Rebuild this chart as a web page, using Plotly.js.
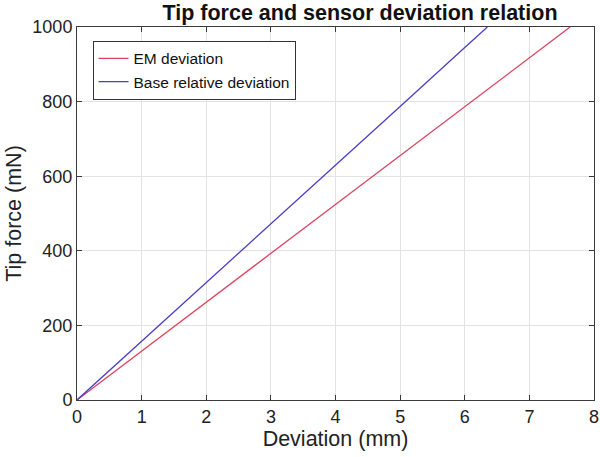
<!DOCTYPE html>
<html><head><meta charset="utf-8">
<script src="https://cdn.plot.ly/plotly-3.0.1.min.js"></script>
<style>html,body{margin:0;padding:0;background:#fff}#chart{width:600px;height:457px}</style>
</head><body><div id="chart"></div>
<script>
const emX = [0, 1, 2, 3, 4, 5, 6, 7, 7.63];
const emY = [0, 131, 262, 393, 524, 655, 786, 917, 1000];
const baseX = [0, 1, 2, 3, 4, 5, 6, 6.35];
const baseY = [0, 157, 315, 472, 630, 787, 945, 1000];
const xTicks = [0, 1, 2, 3, 4, 5, 6, 7, 8];
const yTicks = [0, 200, 400, 600, 800, 1000];

const F = 'Liberation Sans, Arial, sans-serif';
const traces = [
  {x: emX, y: emY, mode: 'lines', name: 'EM deviation', line: {color: '#d9435e', width: 1.3}},
  {x: baseX, y: baseY, mode: 'lines', name: 'Base relative deviation', line: {color: '#4a3fc4', width: 1.3}}
];
const axisCommon = {
  showgrid: true, gridcolor: '#e3e3e3', gridwidth: 1,
  showline: true, linecolor: '#3a3a3a', linewidth: 1, mirror: 'ticks',
  ticks: 'inside', ticklen: 5, tickcolor: '#3a3a3a',
  zeroline: false, tickfont: {family: F, size: 18, color: '#222'}
};
const layout = {
  width: 600, height: 457,
  margin: {l: 77, r: 6, t: 27, b: 57},
  paper_bgcolor: '#fff', plot_bgcolor: '#fff',
  title: {text: '<b>Tip force and sensor deviation relation</b>', font: {family: F, size: 21.5, color: '#111'}, x: 0.6, xanchor: 'center', y: 0.972, yanchor: 'middle'},
  xaxis: Object.assign({}, axisCommon, {range: [0, 8], tickvals: xTicks, title: {text: 'Deviation (mm)', font: {family: F, size: 21.5, color: '#222'}, standoff: 2}}),
  yaxis: Object.assign({}, axisCommon, {range: [0, 1000], tickvals: yTicks, title: {text: 'Tip force (mN)', font: {family: F, size: 21.5, color: '#222'}, standoff: 4}}),
  showlegend: true,
  legend: {x: 0.03, y: 0.963, xanchor: 'left', yanchor: 'top', bgcolor: '#fff', bordercolor: '#333', borderwidth: 1,
    font: {family: F, size: 15.5, color: '#111'}, tracegroupgap: 0}
};
Plotly.newPlot('chart', traces, layout, {displayModeBar: false, staticPlot: true});
</script></body></html>
